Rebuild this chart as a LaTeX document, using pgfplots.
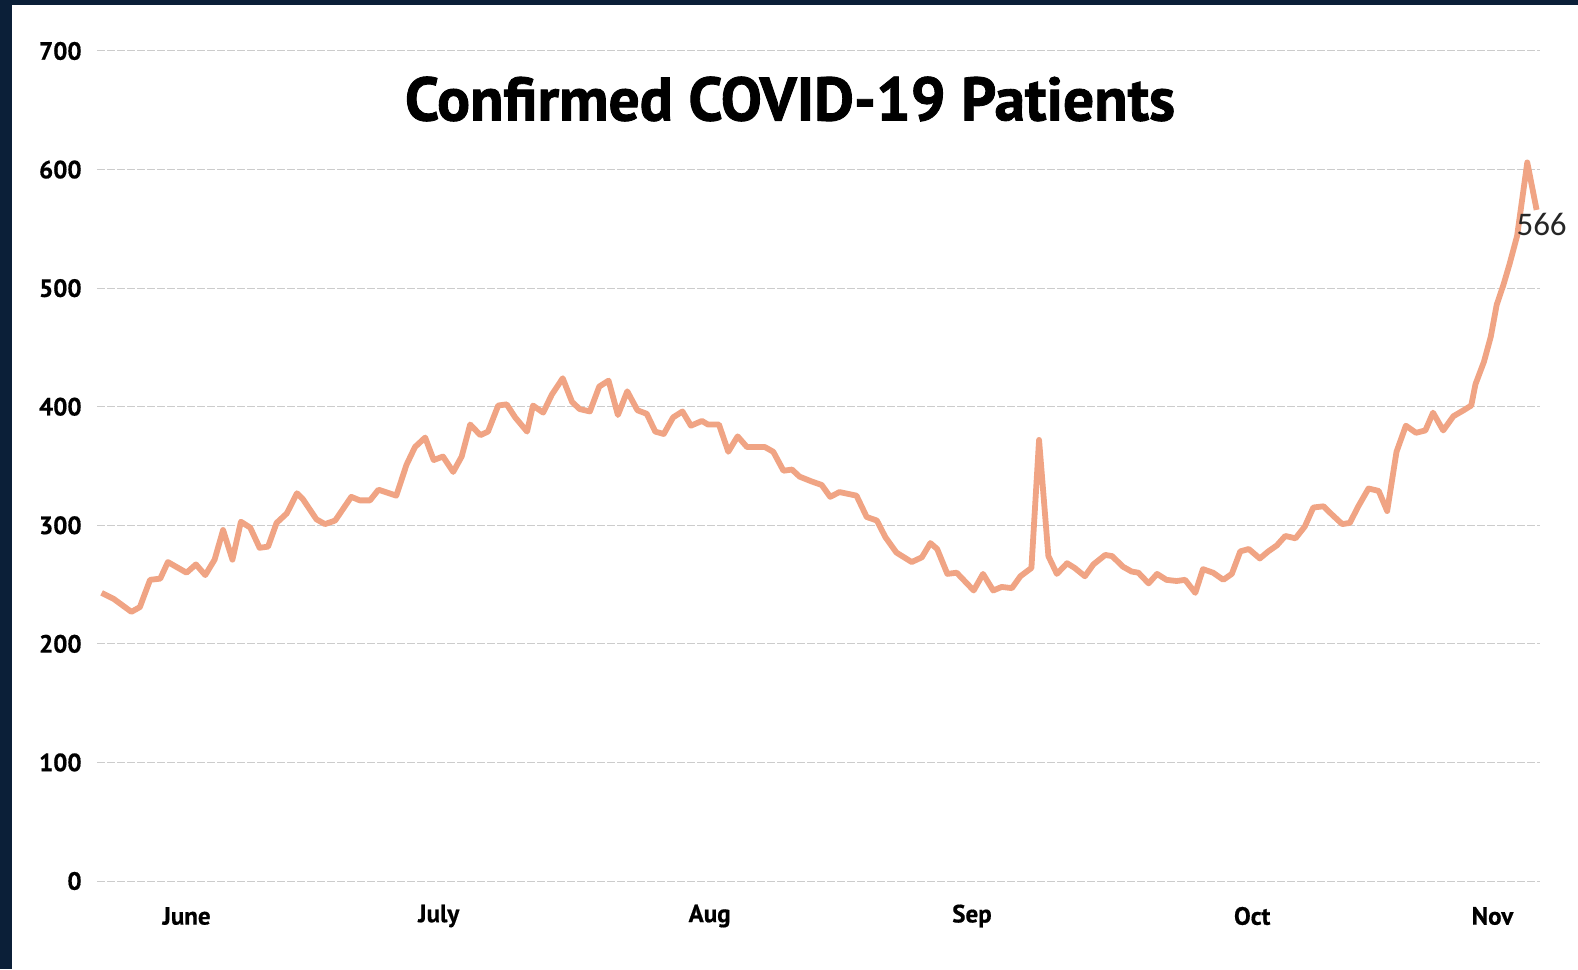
\documentclass[border=0pt]{standalone}
\usepackage{fontspec}
\setmainfont{PT Sans}[BoldFeatures={FakeBold=0.6}]
\newfontfamily\titlefont{PT Sans}[BoldFeatures={FakeBold=1.4}]
\newfontfamily\labelfont{Carlito}
\usepackage{graphicx}
\usepackage{pgfplots}
\pgfplotsset{compat=1.18}
\definecolor{navy}{HTML}{0B1F38}
\definecolor{salmon}{HTML}{F0A484}
\definecolor{gridgray}{HTML}{CCCCCC}

\pgfplotstableread{
x y
0 243
1.4 238
3.5 227
4.5 231
5.7 254
6.9 255
7.8 269
10.0 260
11.1 267
12.2 258
13.3 271
14.3 296
15.4 271
16.4 303
17.5 298
18.6 281
19.6 282
20.6 302
21.8 310
23.0 327
23.7 322
25.3 305
26.3 301
27.5 304
29.4 324
30.4 321
31.6 321
32.6 330
34.7 325
35.9 351
36.9 366
38.1 374
39.1 355
40.2 358
41.4 345
42.4 358
43.4 385
44.6 376
45.5 379
46.7 401
47.7 402
48.7 391
50.1 379
50.8 401
52.0 395
53.0 410
54.3 424
55.4 404
56.3 398
57.5 396
58.6 417
59.7 422
60.8 393
61.9 413
63.1 397
64.2 394
65.2 379
66.2 377
67.3 391
68.4 396
69.4 384
70.7 388
71.4 385
72.7 385
73.8 362
74.9 375
76.0 366
78.1 366
79.1 362
80.3 346
81.3 347
82.2 341
83.6 337
84.8 334
85.8 324
86.9 328
88.9 325
90.1 307
91.3 304
92.3 290
93.6 277
95.4 269
96.6 273
97.6 285
98.4 280
99.6 259
100.7 260
102.7 245
103.8 259
105.0 245
106.0 248
107.2 247
108.2 257
109.5 264
110.4 372
111.5 274
112.5 259
113.7 268
114.6 264
115.8 257
116.8 267
118.2 275
119.0 274
120.3 265
121.3 261
122.1 260
123.3 251
124.3 259
125.4 254
126.6 253
127.6 254
128.8 243
129.7 263
130.9 260
132.1 254
133.1 259
134.1 278
135.1 280
136.4 272
137.4 278
138.4 283
139.4 291
140.6 289
141.7 299
142.7 315
143.9 316
144.9 309
146.1 301
147.0 302
148.0 316
149.2 331
150.4 329
151.4 312
152.5 362
153.6 384
154.8 378
155.9 380
156.8 395
158.0 380
159.2 392
160.4 397
161.3 401
161.8 419
162.8 438
163.6 459
164.3 486
165.1 503
165.8 520
166.7 544
167.9 606
169.0 566
}\covid

\begin{document}
\begin{tikzpicture}
\path[use as bounding box, fill=navy] (0,0) rectangle (789pt,484.5pt);
\fill[white] (6pt,0) rectangle (789pt,482pt);
\node[font=\titlefont\bfseries] at (395pt,435pt) {\resizebox{385pt}{!}{Confirmed COVID-19 Patients}};
\begin{axis}[
  scale only axis, width=721.5pt, height=415pt,
  at={(48.5pt,44pt)}, anchor=south west,
  xmin=-0.55, xmax=169.4, ymin=0, ymax=700,
  axis line style={draw=none},
  clip=false,
  ytick={0,100,...,700},
  xtick={10,39.7,71.6,102.5,135.5,163.8},
  xticklabels={June,July,Aug,Sep,Oct,Nov},
  major tick length=0pt,
  ymajorgrids,
  grid style={gridgray, dash pattern=on 4pt off 1pt, line width=0.5pt},
  tick label style={font=\bfseries\fontsize{12.5}{14}\selectfont, text=black},
  /pgf/number format/assume math mode=true,
  yticklabel style={anchor=east, inner sep=0pt, xshift=-7.5pt},
  xticklabel style={anchor=center, inner sep=0pt, yshift=-17.5pt},
]
\addplot[salmon, line width=2.9pt, line join=round] table[x=x, y=y] {\covid};
\node[font=\labelfont\fontsize{16.5}{18}\selectfont, text=black!85, xshift=2.5pt, yshift=-7.5pt] at (axis cs:169,566) {566};
\end{axis}
\end{tikzpicture}
\end{document}
